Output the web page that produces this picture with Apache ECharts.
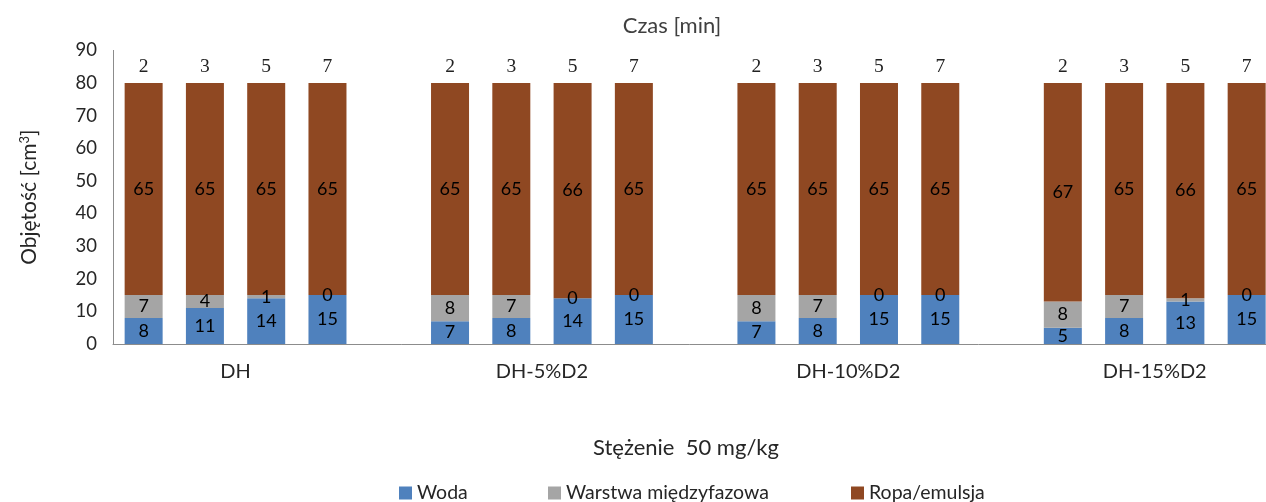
<!DOCTYPE html>
<html><head><meta charset="utf-8">
<script src="https://cdn.jsdelivr.net/npm/echarts@6/dist/echarts.min.js"></script>
<style>html,body{margin:0;padding:0;background:#fff}#c{width:1266px;height:502px}</style>
</head><body><div id="c"></div>
<script>
const groups = ['DH', 'DH-5%D2', 'DH-10%D2', 'DH-15%D2'];
const times = ['2', '3', '5', '7'];
const woda = [8, 11, 14, 15, 7, 8, 14, 15, 7, 8, 15, 15, 5, 8, 13, 15];
const warstwa = [7, 4, 1, 0, 8, 7, 0, 0, 8, 7, 0, 0, 8, 7, 1, 0];
const ropa = [65, 65, 65, 65, 65, 65, 66, 65, 65, 65, 65, 65, 67, 65, 66, 65];
const yTicks = [0, 10, 20, 30, 40, 50, 60, 70, 80, 90];

// build slot layout: 4 bars per group, one empty slot between groups
const slotLabels = [], sW = [], sG = [], sR = [], groupPos = {};
let k = 0;
groups.forEach((g, gi) => {
  groupPos[slotLabels.length + 2] = g;
  times.forEach(t => {
    slotLabels.push(t);
    sW.push(woda[k]); sG.push(warstwa[k]); sR.push(ropa[k]);
    k++;
  });
  if (gi < groups.length - 1) { slotLabels.push(''); sW.push('-'); sG.push('-'); sR.push('-'); }
});
const nSlots = slotLabels.length;

const FONT = 'Lato';
const TXT = '#262626';
const lbl = { show: true, position: 'inside', color: '#000', fontFamily: FONT, fontSize: 18 };
const legTxt = { fontFamily: FONT, fontSize: 19.5, color: TXT };

const chart = echarts.init(document.getElementById('c'), null, { renderer: 'canvas' });
chart.setOption({
  animation: false,
  graphic: [
    { type: 'text', x: 672, y: 26, style: { text: 'Czas [min]', textAlign: 'center', textVerticalAlign: 'middle', fontFamily: FONT, fontSize: 22, fill: '#404040' } },
    { type: 'text', x: 686, y: 448, style: { text: 'Stężenie  50 mg/kg', textAlign: 'center', textVerticalAlign: 'middle', fontFamily: FONT, fontSize: 22, fill: TXT } }
  ],
  legend: [
    { data: ['Woda'], left: 394, top: 478, itemWidth: 13, itemHeight: 13, icon: 'rect', textStyle: legTxt },
    { data: ['Warstwa międzyfazowa'], left: 543, top: 478, itemWidth: 13, itemHeight: 13, icon: 'rect', textStyle: legTxt },
    { data: ['Ropa/emulsja'], left: 846, top: 478, itemWidth: 13, itemHeight: 13, icon: 'rect', textStyle: legTxt }
  ],
  grid: { left: 113, top: 50.4, width: 1164.3, bottom: 158, containLabel: false, outerBoundsMode: 'none' },
  xAxis: [
    {
      type: 'category', data: slotLabels, position: 'top',
      axisLine: { show: false }, axisTick: { show: false },
      axisLabel: { inside: true, margin: 6, interval: 0, fontFamily: 'Liberation Serif', fontSize: 19.5, color: '#222' }
    },
    {
      type: 'value', min: 0, max: nSlots, interval: 1, position: 'bottom',
      axisLine: { show: true, lineStyle: { color: '#8c8c8c', width: 1 } },
      axisTick: { show: false }, splitLine: { show: false },
      axisLabel: { margin: 18, fontFamily: FONT, fontSize: 20, color: TXT, showMinLabel: true, showMaxLabel: true,
        formatter: v => groupPos[v] || '' }
    }
  ],
  yAxis: {
    type: 'value', min: yTicks[0], max: yTicks[yTicks.length - 1], interval: 10,
    name: '{a|Objętość [cm}{s|3}{a|]}', nameLocation: 'middle', nameRotate: 90, nameGap: 72,
    nameTextStyle: { rich: { a: { fontFamily: FONT, fontSize: 21, color: TXT }, s: { fontFamily: FONT, fontSize: 13, color: TXT, verticalAlign: 'top', padding: [0, 0, 10, 0] } } },
    axisLine: { show: true, lineStyle: { color: '#8c8c8c', width: 1 } },
    axisTick: { show: false }, splitLine: { show: false },
    axisLabel: { margin: 16, fontFamily: FONT, fontSize: 18.5, color: TXT }
  },
  series: [
    { name: 'Woda', type: 'bar', stack: 's', xAxisIndex: 0, data: sW, barWidth: 38, itemStyle: { color: '#4F81BD' }, label: lbl },
    { name: 'Warstwa międzyfazowa', type: 'bar', stack: 's', xAxisIndex: 0, data: sG, barWidth: 38, itemStyle: { color: '#A5A5A5' }, label: lbl },
    { name: 'Ropa/emulsja', type: 'bar', stack: 's', xAxisIndex: 0, data: sR, barWidth: 38, itemStyle: { color: '#8F4822' }, label: lbl }
  ]
});
</script></body></html>
